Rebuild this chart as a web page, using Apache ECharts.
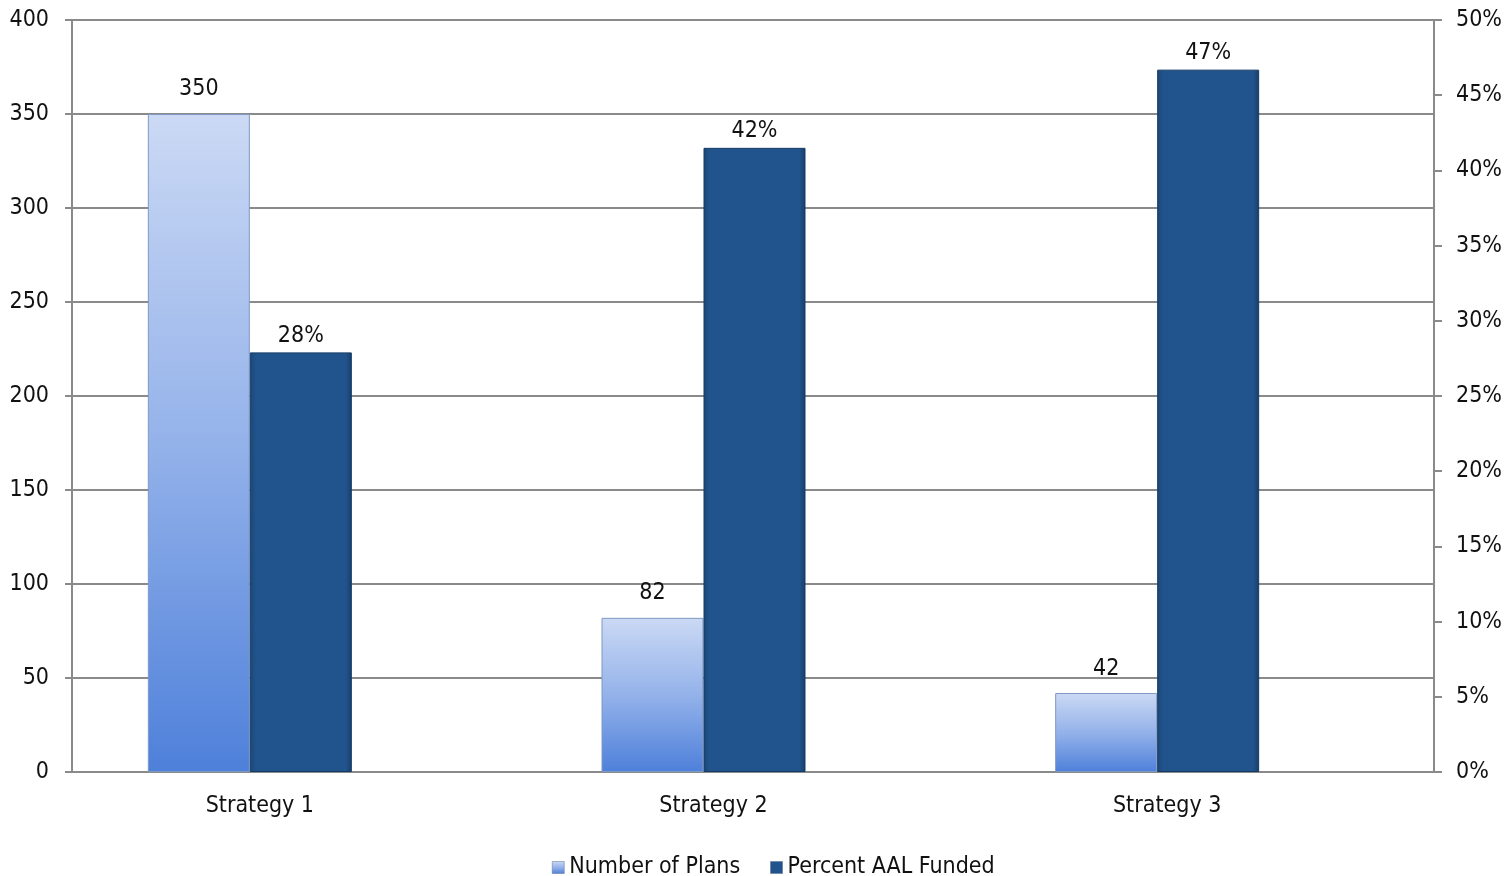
<!DOCTYPE html>
<html>
<head>
<meta charset="utf-8">
<script src="https://cdn.jsdelivr.net/npm/echarts@6/dist/echarts.min.js"></script>
<style>
  html, body { margin: 0; padding: 0; background: #fff; }
  #chart { width: 1512px; height: 876px; }
</style>
</head>
<body>
<div id="chart"></div>
<script>
// Chart data
const categories = ['Strategy 1', 'Strategy 2', 'Strategy 3'];
const numberOfPlans = [350, 82, 42];
const percentFunded = [0.279, 0.415, 0.467];
const leftTicks = { min: 0, max: 400, interval: 50 };
const rightTicks = { min: 0, max: 0.5, interval: 0.05 };

const FONT = '"Liberation Sans Narrow", "Arial Narrow", "DejaVu Sans Condensed", sans-serif';
const AXIS_GRAY = '#8a8a8a';
const pct = v => Math.round(v * 100) + '%';

const lightBar = new echarts.graphic.LinearGradient(0, 0, 0, 1, [
  { offset: 0, color: '#cbd9f4' },
  { offset: 0.5, color: '#94b2ea' },
  { offset: 1, color: '#4e80da' }
]);
const darkBar = new echarts.graphic.LinearGradient(0, 0, 1, 0, [
  { offset: 0, color: '#1a4676' },
  { offset: 0.06, color: '#21548c' },
  { offset: 0.94, color: '#21548c' },
  { offset: 1, color: '#173e6a' }
]);

const chart = echarts.init(document.getElementById('chart'));
chart.setOption({
  animation: false,
  backgroundColor: '#fff',
  textStyle: { fontFamily: FONT, color: '#111' },
  grid: [
    // frame with axes and gridlines
    { left: 72, right: 78, top: 20, bottom: 104 },
    // bar layout
    { left: 23, right: 128, top: 20, bottom: 104 }
  ],
  legend: {
    left: 547,
    top: 851,
    icon: 'rect',
    itemWidth: 12,
    itemHeight: 12,
    itemGap: 30,
    itemStyle: { borderColor: '#5a6f90', borderWidth: 0.5 },
    textStyle: { fontFamily: FONT, fontSize: 23, color: '#111' },
    data: ['Number of Plans', 'Percent AAL Funded']
  },
  xAxis: [
    {
      gridIndex: 0, type: 'value', min: 0, max: 1,
      axisLine: { show: true, lineStyle: { color: AXIS_GRAY, width: 2 } },
      axisTick: { show: false }, axisLabel: { show: false }, splitLine: { show: false }
    },
    {
      gridIndex: 1, type: 'category', data: categories,
      axisLine: { show: false }, axisTick: { show: false },
      axisLabel: {
        fontFamily: FONT, fontSize: 23, color: '#111', margin: 23,
        padding: [0, 0, 0, 20]
      }
    }
  ],
  yAxis: [
    {
      gridIndex: 0, type: 'value', ...leftTicks,
      axisLine: { show: true, lineStyle: { color: AXIS_GRAY, width: 2 } },
      axisTick: { show: true, length: 7, lineStyle: { color: AXIS_GRAY, width: 2 } },
      splitLine: { show: true, lineStyle: { color: AXIS_GRAY, width: 2 } },
      axisLabel: { fontFamily: FONT, fontSize: 23, color: '#111', margin: 23 }
    },
    {
      gridIndex: 0, type: 'value', position: 'right', ...rightTicks,
      axisLine: { show: true, lineStyle: { color: AXIS_GRAY, width: 2 } },
      axisTick: { show: true, length: 8, lineStyle: { color: AXIS_GRAY, width: 2 } },
      splitLine: { show: false },
      axisLabel: { fontFamily: FONT, fontSize: 23, color: '#111', margin: 22, formatter: pct }
    },
    { gridIndex: 1, type: 'value', ...leftTicks, show: false },
    { gridIndex: 1, type: 'value', ...rightTicks, show: false }
  ],
  series: [
    {
      name: 'Number of Plans', type: 'bar', xAxisIndex: 1, yAxisIndex: 2,
      data: numberOfPlans, barWidth: 102, barGap: '0%',
      itemStyle: { color: lightBar, borderColor: '#7f98c4', borderWidth: 1 },
      label: { show: true, position: 'top', distance: 13, fontFamily: FONT, fontSize: 23, color: '#111' }
    },
    {
      name: 'Percent AAL Funded', type: 'bar', xAxisIndex: 1, yAxisIndex: 3,
      data: percentFunded, barWidth: 102, barGap: '0%',
      itemStyle: { color: darkBar, borderColor: '#163b66', borderWidth: 1 },
      label: {
        show: true, position: 'top', distance: 5, fontFamily: FONT, fontSize: 23, color: '#111',
        formatter: p => pct(p.value)
      }
    }
  ]
});
</script>
</body>
</html>
